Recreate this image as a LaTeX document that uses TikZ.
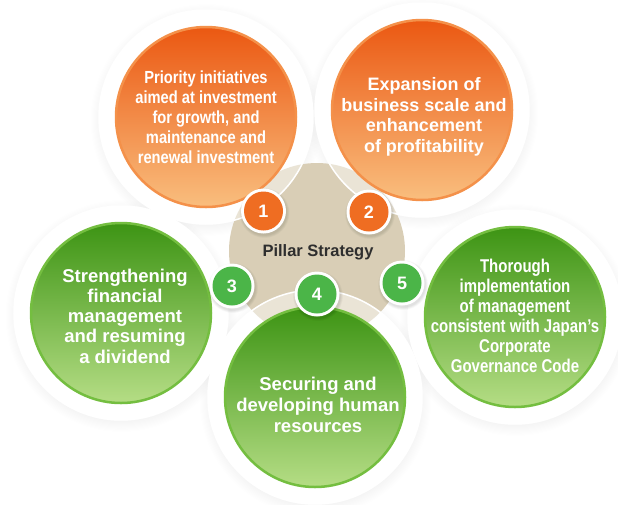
\documentclass[tikz,border=0pt]{standalone}
\usepackage{fontspec}
\setmainfont{Liberation Sans}
\newfontfamily\narrowA[FakeStretch=0.84]{Liberation Sans}
\newfontfamily\narrowB[FakeStretch=0.81]{Liberation Sans}
\definecolor{orTop}{HTML}{EB5812}
\definecolor{orMid}{HTML}{F17A2A}
\definecolor{orBot}{HTML}{F9BE7E}
\definecolor{orRim}{HTML}{F4914A}
\definecolor{grTop}{HTML}{3D9414}
\definecolor{grMid}{HTML}{6BB531}
\definecolor{grBot}{HTML}{B5DD85}
\definecolor{grRim}{HTML}{74BE40}
\definecolor{beige}{HTML}{D9CEB6}
\definecolor{badgeOr}{HTML}{EF6D22}
\definecolor{badgeGr}{HTML}{4BB548}
\definecolor{darktext}{HTML}{2E2E2E}
\begin{document}
\begin{tikzpicture}[x=1pt,y=-1pt,
  halo/.style={circle, inner sep=0pt, minimum size=214pt},
  orangedisk/.style={circle, inner sep=0pt, minimum size=180pt,
    top color=orTop, middle color=orMid, bottom color=orBot,
    draw=orRim, line width=2.5pt},
  greendisk/.style={circle, inner sep=0pt, minimum size=180pt,
    top color=grTop, middle color=grMid, bottom color=grBot,
    draw=grRim, line width=2.5pt},
  disktext/.style={text=white, align=center, inner sep=0pt},
  badgering/.style={circle, inner sep=0pt, minimum size=45pt, fill=white},
  badge/.style={circle, inner sep=0pt, minimum size=39pt, text=white,
    font={\bfseries\fontsize{18}{18}\selectfont}},
]
\useasboundingbox (0,0) rectangle (618,504);

% centres of the five pillar discs
\coordinate (c1) at (206,117);
\coordinate (c2) at (422,110);
\coordinate (c3) at (121,313);
\coordinate (c4) at (315,397);
\coordinate (c5) at (515,317);

% soft shadows around the white rings
\foreach \c in {c1,c2,c3,c4,c5}
  \foreach \r in {0,...,9}
    \fill[black, opacity=0.0045] ([shift={(0.5,3)}]\c) circle ({106+\r*1.1});

% opaque white rings
\foreach \c in {c1,c2,c3,c4,c5}
  \node[halo, fill=white] at (\c) {};

% central hub
\node[circle, inner sep=0pt, minimum size=176pt, fill=beige] (core) at (317,251) {};

% translucent rings lighten the hub where they overlap it
\foreach \c in {c1,c2,c3,c4,c5}
  \node[halo, fill=white, fill opacity=0.45, draw=white, line width=1.5pt] at (\c) {};

\node[font={\bfseries\fontsize{16.5}{18}\selectfont}, text=darktext] (hub) at (318,252) {Pillar Strategy};

% pillar discs
\node[orangedisk] (d1) at (c1) {};
\node[orangedisk] (d2) at (c2) {};
\node[greendisk] (d3) at (c3) {};
\node[greendisk] (d4) at (c4) {};
\node[greendisk] (d5) at (c5) {};

\node[disktext, font={\narrowA\bfseries\fontsize{17.5}{20}\selectfont}] (t1) at (206,117)
  {Priority initiatives\\aimed at investment\\for growth, and\\maintenance and\\renewal investment};
\node[disktext, font={\bfseries\fontsize{18}{20.5}\selectfont}] (t2) at (424,117)
  {Expansion of\\business scale and\\enhancement\\of profitability};
\node[disktext, font={\bfseries\fontsize{18.5}{20.3}\selectfont}] (t3) at (125,316)
  {Strengthening\\financial\\management\\and resuming\\a dividend};
\node[disktext, font={\bfseries\fontsize{18.5}{20.8}\selectfont}] (t4) at (318,405)
  {Securing and\\developing human\\resources};
\node[disktext, font={\narrowB\bfseries\fontsize{18.5}{20}\selectfont}] (t5) at (515,316)
  {Thorough\\implementation\\of management\\consistent with Japan’s\\Corporate\\Governance Code};

% numbered badges
\coordinate (p1) at (263.5,211);
\coordinate (p2) at (369,212);
\coordinate (p3) at (232,286);
\coordinate (p4) at (317,294);
\coordinate (p5) at (402,283);
\foreach \p in {p1,p2,p3,p4,p5}
  \foreach \r in {0,...,5}
    \fill[black, opacity=0.018] ([shift={(1,2)}]\p) circle ({22.5+\r*0.5});
\foreach \p in {p1,p2,p3,p4,p5}
  \node[badgering] at (\p) {};
\node[badge, fill=badgeOr] (b1) at (p1) {1};
\node[badge, fill=badgeOr] (b2) at (p2) {2};
\node[badge, fill=badgeGr] (b3) at (p3) {3};
\node[badge, fill=badgeGr] (b4) at (p4) {4};
\node[badge, fill=badgeGr] (b5) at (p5) {5};
\end{tikzpicture}
\end{document}
